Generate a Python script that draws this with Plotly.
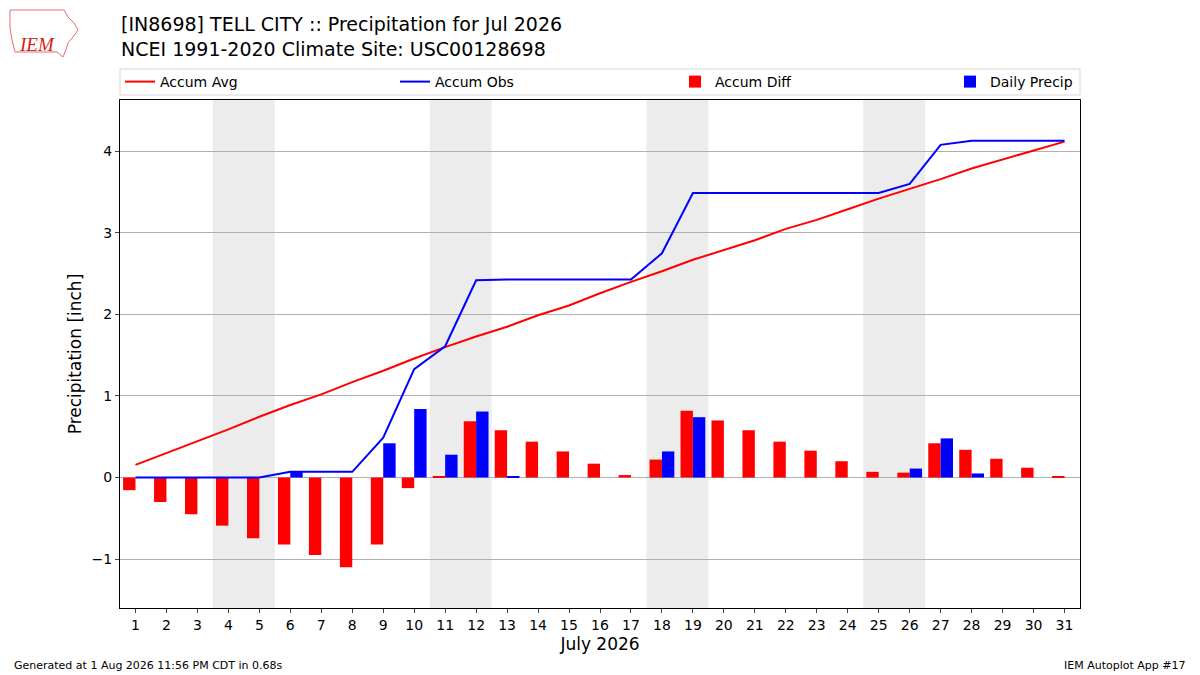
import datetime
import numpy as np
import plotly.graph_objects as go

# Dagelijkse neerslag en klimatologisch gemiddelde (inch), juli 2026
days = list(range(1, 32))
daily_precip = [0, 0, 0, 0, 0, 0.07, 0, 0, 0.42, 0.84, 0.28, 0.81, 0.01, 0, 0, 0,
                0, 0.32, 0.74, 0, 0, 0, 0, 0, 0, 0.11, 0.48, 0.05, 0, 0, 0]
accum_avg = [0.155, 0.30, 0.45, 0.59, 0.745, 0.89, 1.02, 1.17, 1.31, 1.46, 1.60,
             1.73, 1.85, 1.99, 2.11, 2.26, 2.40, 2.53, 2.67, 2.79, 2.91, 3.05,
             3.16, 3.29, 3.42, 3.54, 3.66, 3.79, 3.90, 4.01, 4.12]
y_ticks = [-1, 0, 1, 2, 3, 4]

accum_obs = np.cumsum(daily_precip)
accum_diff = accum_obs - np.array(accum_avg)

# plotgebied in pixels
L, T, W, H = 120, 100, 960, 508


def px(x):
    return (x - L) / W


def py(y):
    return 1 + (T - y) / H


fig = go.Figure()

fig.add_trace(go.Scatter(x=days, y=accum_avg, mode='lines', name='Accum Avg',
                         line=dict(color='red', width=2), legend='legend'))
fig.add_trace(go.Scatter(x=days, y=accum_obs, mode='lines', name='Accum Obs',
                         line=dict(color='blue', width=2), legend='legend2'))
fig.add_trace(go.Bar(x=days, y=accum_diff, name='Accum Diff', marker_color='red',
                     marker_line_width=0, width=0.4, offset=-0.4, legend='legend3'))
fig.add_trace(go.Bar(x=days, y=daily_precip, name='Daily Precip', marker_color='blue',
                     marker_line_width=0, width=0.4, offset=0, legend='legend4'))

# Weekenden grijs markeren
shapes = []
for d in days:
    if datetime.date(2026, 7, d).weekday() == 5:
        shapes.append(dict(type='rect', xref='x', yref='paper', x0=d - 0.5, x1=d + 1.5,
                           y0=0, y1=1, fillcolor='#ececec', line_width=0, layer='below'))

# kader om de legenda
shapes.append(dict(type='rect', xref='paper', yref='paper', x0=px(120), x1=px(1080),
                   y0=py(95), y1=py(69), line=dict(color='#d6d6d6', width=1),
                   fillcolor='white'))

# ruwe omtrek van Iowa voor het logo
iowa = [(10, 10), (64, 10), (68, 17), (74, 23), (78, 30), (73, 37), (68, 43),
        (66, 50), (63, 57), (57, 52), (15, 52), (12, 40), (10, 28)]
path = 'M ' + ' L '.join(f'{px(a):.4f},{py(b):.4f}' for a, b in iowa) + ' Z'
shapes.append(dict(type='path', xref='paper', yref='paper', path=path,
                   line=dict(color='#e07070', width=1)))

leg = dict(orientation='h', xanchor='left', yanchor='middle', y=py(82),
           bgcolor='rgba(0,0,0,0)', borderwidth=0, font=dict(size=14))

fig.update_layout(
    width=1200, height=675,
    margin=dict(l=L, r=1200 - L - W, t=T, b=675 - T - H, autoexpand=False),
    paper_bgcolor='white', plot_bgcolor='white',
    font=dict(family='DejaVu Sans', color='black', size=14),
    barmode='overlay',
    shapes=shapes,
    showlegend=True,
    legend=dict(leg, x=px(120)),
    legend2=dict(leg, x=px(395)),
    legend3=dict(leg, x=px(675)),
    legend4=dict(leg, x=px(950)),
    xaxis=dict(range=[0.5, 31.5], tickmode='array', tickvals=days,
               ticks='outside', ticklen=4, showgrid=False, showline=True,
               linecolor='black', mirror=True, zeroline=False,
               title=dict(text='July 2026', font=dict(size=17), standoff=6)),
    yaxis=dict(range=[-1.6, 4.63], tickvals=y_ticks, ticks='outside', ticklen=4,
               showgrid=True, gridcolor='#b0b0b0', showline=True, linecolor='black',
               mirror=True, zeroline=True, zerolinecolor='#b0b0b0', zerolinewidth=1,
               title=dict(text='Precipitation [inch]', font=dict(size=17), standoff=5)),
    annotations=[
        dict(text='[IN8698] TELL CITY :: Precipitation for Jul 2026<br>'
                  'NCEI 1991-2020 Climate Site: USC00128698',
             xref='paper', yref='paper', x=px(119), y=py(11),
             xanchor='left', yanchor='top', align='left', showarrow=False,
             font=dict(size=19)),
        dict(text='IEM', xref='paper', yref='paper', x=px(37), y=py(45), showarrow=False,
             font=dict(family='Liberation Serif', size=19, color='#d42020', style='italic'),
             xanchor='center', yanchor='middle'),
        dict(text='Generated at 1 Aug 2026 11:56 PM CDT in 0.68s', xref='paper',
             yref='paper', x=px(12), y=py(665), xanchor='left', yanchor='middle',
             showarrow=False, font=dict(size=11)),
        dict(text='IEM Autoplot App #17', xref='paper', yref='paper', x=px(1188),
             y=py(665), xanchor='right', yanchor='middle', showarrow=False,
             font=dict(size=11)),
    ],
)

fig.write_html('out.html', config={'displayModeBar': False},
               post_script="document.body.style.margin='0';")
